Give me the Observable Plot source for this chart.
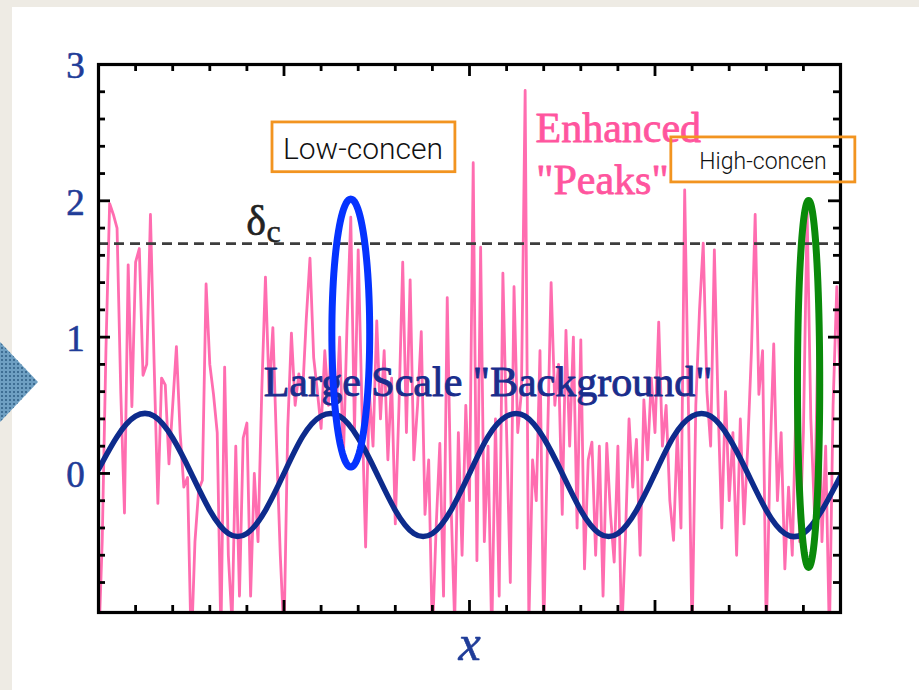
<!DOCTYPE html>
<html><head><meta charset="utf-8">
<script src="https://cdn.jsdelivr.net/npm/d3@7"></script>
<script src="https://cdn.jsdelivr.net/npm/@observablehq/plot@0.6"></script>
<style>
html,body{margin:0;padding:0;}
body{width:919px;height:690px;background:#eeebe4;position:relative;overflow:hidden;}
#panel{position:absolute;left:12px;top:7px;width:907px;height:683px;background:#fff;}
#chart{position:absolute;left:0;top:0;}
#chart svg{overflow:visible;}
#arrow{position:absolute;left:0;top:342px;width:38px;height:80px;clip-path:polygon(0 0,100% 50%,0 100%);background-color:#6e9fc2;background-image:radial-gradient(#3e6e94 38%, transparent 45%);background-size:4px 4px;}
</style></head>
<body><div id="panel"></div><div id="chart"></div><div id="arrow"></div>
<script>
// ---- data ----
const pinkStep = 0.1; // x spacing of the noisy density field
const pinkY = [
  -1.3, -0.5, 0.9, 1.98, 1.9, 1.8, 0.6, -0.29, 1.53, 0.49,
  1.55, 1.65, 0.72, 0.8, 1.9, 0.8, -0.22, 0.7, 0.65, 0.07,
  0.5, 0.93, 0.3, -0.1, -0.03, -1.3, -0.5, -0.12, -0.05, 1.39,
  0.8, 0.58, 0.3, -1.2, 0.78, -0.6, -1.1, 0.2, -0.9, 0.26,
  0.37, -0.9, 0.0, -0.5, 0.6, 1.44, 0.6, 1.07, 0.2, -0.6,
  -1.2, 0.33, 1.03, 0.5, 0.73, 0.58, 1.13, 1.58, 0.85, 0.6,
  0.33, 0.9, 0.5, 1.2, 0.42, 1.0, 0.1, 1.1, 1.88, 0.3,
  1.64, 0.5, -0.54, 0.6, 0.2, 1.12, 0.4, 0.9, 0.1, 0.7,
  -0.37, 0.5, 1.55, 0.3, 1.42, 0.1, 0.5, 1.04, -0.3, 0.1,
  -1.2, -0.4, 0.22, -0.9, 1.29, -0.2, -1.1, 0.3, -0.6, 0.5,
  -0.2, 2.28, -0.64, 1.66, -0.5, 0.2, -1.2, 0.4, -0.9, 1.47,
  0.3, -0.8, 1.37, 0.3, 0.6, 2.81, -1.1, 0.1, -0.2, 0.9,
  -1.2, 0.2, 1.4, 0.5, 0.8, -0.3, 1.05, 0.2, 1.0, -0.4,
  0.98, -0.7, 0.1, 0.23, -0.6, 0.2, -0.9, 0.22, -0.3, -0.65,
  0.2, -1.2, -0.5, 0.4, -0.1, 0.25, -0.6, 0.54, 0.1, 0.7,
  0.3, 1.11, 0.2, 0.5, -0.2, -0.49, 0.3, -0.4, 2.08, 0.5,
  -1.2, 0.5, 1.2, 1.69, 0.6, 0.2, 1.64, 0.5, -0.4, 0.6,
  -0.2, 0.3, -0.6, 0.4, -0.37, 0.2, 0.9, 1.9, 0.58, 0.9,
  -1.2, 0.1, 0.95, -0.2, 0.3, -0.7, -0.1, -0.6, 0.5, -0.5,
  0.3, 1.93, 0.4, -0.3, 1.1, -0.5, 0.2, -1.2, 0.5, 1.37,
  0.6
];
const bgStep = 0.5; // x spacing of the large-scale background samples
const bgY = [
  0.03, 0.27, 0.42, 0.42, 0.26, 0.0, -0.27, -0.44, -0.44, -0.27,
  0.0, 0.27, 0.42, 0.42, 0.26, 0.0, -0.27, -0.44, -0.44, -0.27,
  0.0, 0.27, 0.42, 0.42, 0.26, 0.0, -0.27, -0.44, -0.44, -0.27,
  0.0, 0.27, 0.42, 0.42, 0.26, 0.0, -0.27, -0.44, -0.44, -0.27,
  -0.02
];
const deltaC = 1.686;

const yTickValues = [0, 1, 2, 3];
const yTickLabels = ["0", "1", "2", "3"];
const yMajor = [0, 1, 2];
const yMinor = [-0.8, -0.6, -0.4, -0.2, 0.2, 0.4, 0.6, 0.8, 1.2, 1.4, 1.6, 1.8, 2.2, 2.4, 2.6, 2.8];
const xMajor = [5, 10, 15];
const xMinor = [1, 2, 3, 4, 6, 7, 8, 9, 11, 12, 13, 14, 16, 17, 18, 19];
const xLabel = "x";

const ellipseNames = ["low", "high"];
const ellipseCX = [6.8, 19.14];
const ellipseCY = [1.03, 0.657];
const ellipseRX = [0.51, 0.30];
const ellipseRY = [0.983, 1.346];
const ellipseColors = ["#0533ff", "#0a8a0a"];

const boxLabels = ["Low-concen", "High-concen"];
const boxX1 = [4.69, 15.44];
const boxX2 = [9.62, 20.4];
const boxY1 = [2.21, 2.135];
const boxY2 = [2.575, 2.465];
const boxTextX = [7.13, 17.91];
const boxTextY = [2.38, 2.29];

const peakLines = ["Enhanced", "\"Peaks\""];
const peakX = [11.78, 11.8];
const peakY = [2.527, 2.15];
const bgLabel = "Large Scale \"Background\"";
const bgLabelPos = [10.5, 0.665];
const deltaPos = [3.98, 1.85];
const deltaSubPos = [4.53, 1.77];

// ---- build tables ----
const pinkData = pinkY.map((v, i) => ({x: i * pinkStep, y: v}));
const bgData = bgY.map((v, i) => ({x: i * bgStep, y: v}));
const ellipsePts = [];
ellipseNames.forEach((n, k) => {
  for (let j = 0; j <= 96; j++) {
    const t = (j / 96) * 2 * Math.PI;
    ellipsePts.push({name: n, x: ellipseCX[k] + ellipseRX[k] * Math.cos(t), y: ellipseCY[k] + ellipseRY[k] * Math.sin(t)});
  }
});
const boxes = boxLabels.map((l, i) => ({label: l, x1: boxX1[i], x2: boxX2[i], y1: boxY1[i], y2: boxY2[i], tx: boxTextX[i], ty: boxTextY[i]}));

const FW = 742, FH = 548; // frame size for inward tick insets
const serif = "'Liberation Serif', 'Times New Roman', serif";
const sans = "Roboto, 'Helvetica Neue', 'Liberation Sans', sans-serif";

const chart = Plot.plot({
  width: 919,
  height: 690,
  marginLeft: 98,
  marginRight: 79,
  marginTop: 64,
  marginBottom: 78,
  style: {background: "transparent", overflow: "visible"},
  x: {domain: [0, 20], axis: null},
  y: {domain: [-1.02, 3], axis: null},
  color: {domain: ellipseNames, range: ellipseColors},
  marks: [
    Plot.line(pinkData, {x: "x", y: "y", stroke: "#ff6db0", strokeWidth: 2.8, clip: true}),
    Plot.line(bgData, {x: "x", y: "y", curve: "natural", stroke: "#0d2b8c", strokeWidth: 5.5, clip: true}),
    Plot.ruleY([deltaC], {stroke: "#3d3d3d", strokeWidth: 2.6, strokeDasharray: "10,6"}),
    // inward ticks on all four sides
    Plot.tickX(xMinor, {x: d => d, stroke: "black", strokeWidth: 2.8, insetBottom: FH - 7}),
    Plot.tickX(xMinor, {x: d => d, stroke: "black", strokeWidth: 2.8, insetTop: FH - 7}),
    Plot.tickX(xMajor, {x: d => d, stroke: "black", strokeWidth: 2.8, insetBottom: FH - 12}),
    Plot.tickX(xMajor, {x: d => d, stroke: "black", strokeWidth: 2.8, insetTop: FH - 12}),
    Plot.tickY(yMinor, {y: d => d, stroke: "black", strokeWidth: 2.8, insetRight: FW - 7}),
    Plot.tickY(yMinor, {y: d => d, stroke: "black", strokeWidth: 2.8, insetLeft: FW - 7}),
    Plot.tickY(yMajor, {y: d => d, stroke: "black", strokeWidth: 2.8, insetRight: FW - 12}),
    Plot.tickY(yMajor, {y: d => d, stroke: "black", strokeWidth: 2.8, insetLeft: FW - 12}),
    Plot.frame({stroke: "black", strokeWidth: 3.2}),
    Plot.text(yTickValues, {y: d => d, text: (d, i) => yTickLabels[i], frameAnchor: "left", dx: -23, dy: 2, textAnchor: "middle", fontFamily: serif, fontSize: 37, fill: "#1f3c98", stroke: "#1f3c98", strokeWidth: 0.6}),
    Plot.text([xLabel], {x: 10, text: d => d, frameAnchor: "bottom", dy: 47, fontFamily: serif, fontStyle: "italic", fontSize: 50, fill: "#1f3c98", stroke: "#1f3c98", strokeWidth: 0.6}),
    // annotations
    Plot.text([bgLabel], {x: bgLabelPos[0], y: bgLabelPos[1], text: d => d, fontFamily: serif, fontSize: 42, fill: "#1a2d8c", stroke: "#1a2d8c", strokeWidth: 0.9}),
    Plot.text(peakLines, {x: (d, i) => peakX[i], y: (d, i) => peakY[i], text: d => d, textAnchor: "start", fontFamily: serif, fontSize: 42, fill: "#ff559e", stroke: "#ff559e", strokeWidth: 0.8}),
    Plot.text(["δ"], {x: deltaPos[0], y: deltaPos[1], text: d => d, textAnchor: "start", fontFamily: serif, fontSize: 42, fill: "#222", stroke: "#222", strokeWidth: 0.6}),
    Plot.text(["c"], {x: deltaSubPos[0], y: deltaSubPos[1], text: d => d, textAnchor: "start", fontFamily: serif, fontSize: 32, fill: "#222", stroke: "#222", strokeWidth: 0.5}),
    Plot.line(ellipsePts, {x: "x", y: "y", z: "name", stroke: "name", strokeWidth: 7}),
    Plot.rect(boxes, {x1: "x1", x2: "x2", y1: "y1", y2: "y2", fill: "none", stroke: "#f29420", strokeWidth: 2.8}),
    Plot.text(boxes.slice(0, 1), {x: "tx", y: "ty", text: "label", fontFamily: sans, fontWeight: 300, fontSize: 30, fill: "#111"}),
    Plot.text(boxes.slice(1), {x: "tx", y: "ty", text: "label", fontFamily: sans, fontWeight: 300, fontSize: 23, fill: "#111"})
  ]
});
document.getElementById("chart").appendChild(chart);
</script></body></html>
